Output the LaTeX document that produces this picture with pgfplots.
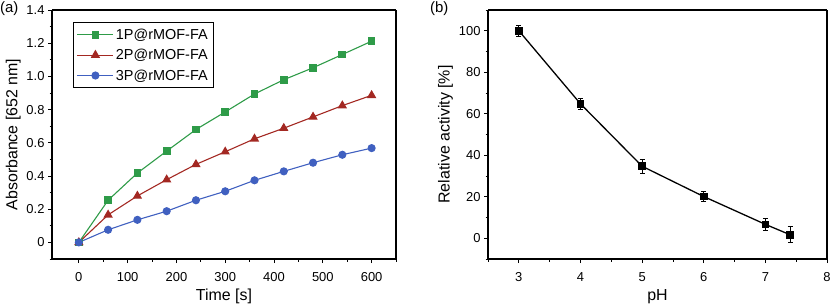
\documentclass[border=0pt]{standalone}
\usepackage{fontspec}
\setmainfont{Liberation Sans}
\usepackage{pgfplots}
\pgfplotsset{compat=1.18}
\definecolor{cgreen}{RGB}{46,155,72}
\definecolor{cred}{RGB}{163,40,34}
\definecolor{cblue}{RGB}{64,96,192}
\begin{document}
\begin{tikzpicture}[x=1bp,y=1bp]
\path[use as bounding box] (0,0) rectangle (831,306);
\pgfplotsset{
  every axis/.append style={
    scale only axis,
    /pgf/number format/assume math mode=true,
    tick label style={font=\fontsize{13}{15}\selectfont},
    xticklabel style={yshift=-6bp},
    label style={font=\fontsize{16}{18}\selectfont},
    tick align=outside,
    tick pos=left,
    major tick length=4bp,
    minor tick length=2.5bp,
    every tick/.style={black, line width=0.8pt},
    axis line style={line width=0.6pt},
    separate axis lines,
    every outer x axis line/.append style={line width=1.1pt},
    every outer y axis line/.append style={line width=1.1pt},
  }
}
\begin{axis}[
  at={(52bp,47bp)}, anchor=south west,
  width=344bp, height=249bp,
  xmin=-55, xmax=650, ymin=-0.1, ymax=1.4,
  xtick={0,100,...,600}, minor xtick={50,150,...,650},
  ytick={0,0.2,...,1.4}, minor ytick={-0.1,0.1,...,1.3},
  yticklabel={\ifdim\tick pt=0pt 0\else\pgfmathprintnumber[fixed,fixed zerofill,precision=1]{\tick}\fi},
  xlabel={Time [s]}, ylabel={Absorbance [652 nm]},
  xlabel style={yshift=-0.5bp}, ylabel style={yshift=-1bp},
  legend style={at={(0.06,0.95)}, anchor=north west, draw=black, line width=0.5pt,
    font=\fontsize{14.5}{16}\selectfont, row sep=4.5pt, inner sep=4pt},
  legend cell align=left,
  legend image code/.code={\draw[mark repeat=2,mark phase=2,#1] plot coordinates {(0bp,0bp) (18bp,0bp) (36bp,0bp)};},
]
\addplot[cgreen, line width=1.1pt, mark=square*, mark size=3.3bp] coordinates {
(0,0) (60,0.254) (120,0.418) (180,0.55) (240,0.68) (300,0.786) (360,0.894) (420,0.98) (480,1.052) (540,1.132) (600,1.212)};
\addlegendentry{1P@rMOF-FA}
\addplot[cred, line width=1.1pt, mark=triangle*, mark size=4.3bp] coordinates {
(0,0) (60,0.166) (120,0.28) (180,0.378) (240,0.47) (300,0.546) (360,0.624) (420,0.688) (480,0.756) (540,0.824) (600,0.886)};
\addlegendentry{2P@rMOF-FA}
\addplot[cblue, line width=1.1pt, mark=*, mark size=3.5bp] coordinates {
(0,0) (60,0.076) (120,0.136) (180,0.188) (240,0.254) (300,0.308) (360,0.374) (420,0.428) (480,0.48) (540,0.528) (600,0.568)};
\addlegendentry{3P@rMOF-FA}
\end{axis}
\node[anchor=north west, inner sep=0pt, font=\fontsize{15}{17}\selectfont] at (0,305) {(a)};
\begin{axis}[
  at={(488bp,47bp)}, anchor=south west,
  width=339bp, height=249bp,
  xmin=2.5, xmax=8, ymin=-10, ymax=110,
  xtick={3,4,...,8}, minor xtick={2.5,3.5,...,7.5},
  ytick={0,20,...,100}, minor ytick={-10,10,...,110},
  xlabel={pH}, ylabel={Relative activity [\%]},
  xlabel style={yshift=-0.5bp}, ylabel style={yshift=-1bp},
]
\addplot[black, line width=1.3pt, mark=square*, mark size=3.2bp,
  error bars/.cd, y dir=both, y explicit,
  error bar style={line width=0.8pt}, error mark options={line width=0.8pt, mark size=2.5bp, rotate=90}]
  coordinates {
(3,100) +- (0,2.5)
(4,64.8) +- (0,2.5)
(5,34.7) +- (0,3.5)
(6,20.1) +- (0,2.5)
(7,6.7) +- (0,2.7)
(7.4,1.7) +- (0,3.9)};
\end{axis}
\node[anchor=north west, inner sep=0pt, font=\fontsize{15}{17}\selectfont] at (430,305) {(b)};
\end{tikzpicture}
\end{document}
